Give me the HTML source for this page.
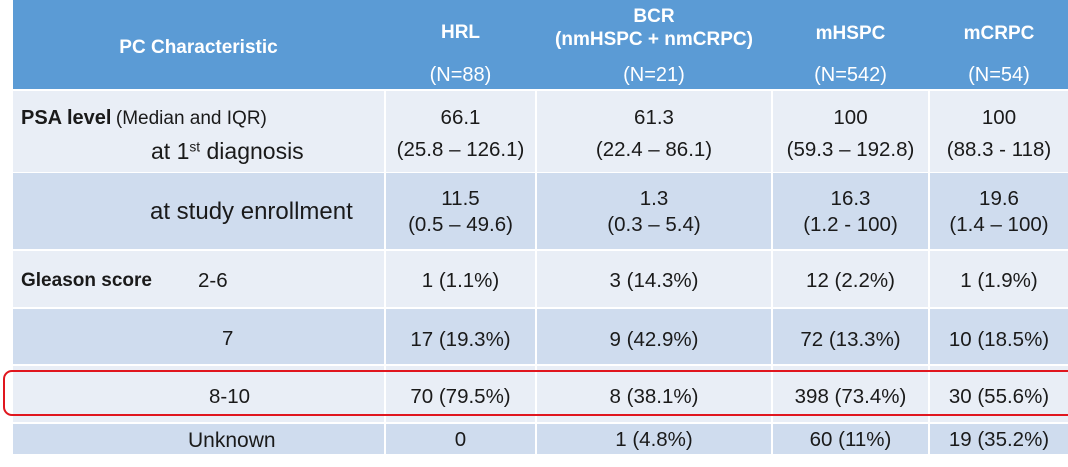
<!DOCTYPE html>
<html>
<head>
<meta charset="utf-8">
<style>
  html, body { margin:0; padding:0; }
  body {
    width:1068px; height:467px; overflow:hidden; position:relative;
    background:#ffffff;
    font-family:"Liberation Sans", Arial, sans-serif;
    color:#1a1a1a;
  }
  .bg { position:absolute; }
  .hdr { background:#5B9BD5; }
  .lt { background:#E9EEF6; }
  .dk { background:#CFDCEE; }
  .vl { position:absolute; width:2px; background:#ffffff; top:89px; height:366px; }
  .t { position:absolute; height:30px; line-height:30px; white-space:nowrap; }
  .c { text-align:center; }
  .h { color:#ffffff; font-size:19px; font-weight:bold; }
  .hn { color:#ffffff; font-size:20px; }
  .v { font-size:20.5px; }
  .c1 { left:13px; width:371px; }
  .c2 { left:386px; width:149px; }
  .c3 { left:537px; width:234px; }
  .c4 { left:773px; width:155px; }
  .c5 { left:930px; width:138px; }
  sup { font-size:0.6em; vertical-align:0.55em; line-height:0; }
  .red {
    position:absolute; left:3px; top:370px; width:1090px; height:42px;
    border:2.5px solid #E0161E; border-radius:9px;
  }
</style>
</head>
<body>
  <!-- backgrounds -->
  <div class="bg hdr" style="left:13px; top:0; width:1055px; height:89px;"></div>
  <div class="bg lt" style="left:13px; top:91px; width:1055px; height:81px;"></div>
  <div class="bg dk" style="left:13px; top:173px; width:1055px; height:76px;"></div>
  <div class="bg lt" style="left:13px; top:251px; width:1055px; height:56px;"></div>
  <div class="bg dk" style="left:13px; top:309px; width:1055px; height:55px;"></div>
  <div class="bg lt" style="left:13px; top:366px; width:1055px; height:56px;"></div>
  <div class="bg dk" style="left:13px; top:424px; width:1055px; height:30px;"></div>

  <!-- vertical separators -->
  <div class="vl" style="left:384px;"></div>
  <div class="vl" style="left:535px;"></div>
  <div class="vl" style="left:771px;"></div>
  <div class="vl" style="left:928px;"></div>

  <!-- header -->
  <div class="t c c1 h" style="top:33px;">PC Characteristic</div>
  <div class="t c c2 h" style="top:18px;">HRL</div>
  <div class="t c c2 hn" style="top:60px;">(N=88)</div>
  <div class="t c c3 h" style="top:2px;">BCR</div>
  <div class="t c c3 h" style="top:24.5px;">(nmHSPC + nmCRPC)</div>
  <div class="t c c3 hn" style="top:60px;">(N=21)</div>
  <div class="t c c4 h" style="top:19px;">mHSPC</div>
  <div class="t c c4 hn" style="top:60px;">(N=542)</div>
  <div class="t c c5 h" style="top:19px;">mCRPC</div>
  <div class="t c c5 hn" style="top:60px;">(N=54)</div>

  <!-- row 1 -->
  <div class="t" style="left:21px; top:103px;"><span style="font-weight:bold; font-size:20px;">PSA level</span> <span style="font-size:19px;">(Median and IQR)</span></div>
  <div class="t" style="left:151px; top:136px; font-size:23px;">at 1<sup>st</sup> diagnosis</div>
  <div class="t c c2 v" style="top:103px;">66.1</div>
  <div class="t c c2 v" style="top:135px;">(25.8 – 126.1)</div>
  <div class="t c c3 v" style="top:103px;">61.3</div>
  <div class="t c c3 v" style="top:135px;">(22.4 – 86.1)</div>
  <div class="t c c4 v" style="top:103px;">100</div>
  <div class="t c c4 v" style="top:135px;">(59.3 – 192.8)</div>
  <div class="t c c5 v" style="top:103px;">100</div>
  <div class="t c c5 v" style="top:135px;">(88.3 - 118)</div>

  <!-- row 2 -->
  <div class="t" style="left:150px; top:197px; font-size:24px;">at study enrollment</div>
  <div class="t c c2 v" style="top:184px;">11.5</div>
  <div class="t c c2 v" style="top:210px;">(0.5 – 49.6)</div>
  <div class="t c c3 v" style="top:184px;">1.3</div>
  <div class="t c c3 v" style="top:210px;">(0.3 – 5.4)</div>
  <div class="t c c4 v" style="top:184px;">16.3</div>
  <div class="t c c4 v" style="top:210px;">(1.2 - 100)</div>
  <div class="t c c5 v" style="top:184px;">19.6</div>
  <div class="t c c5 v" style="top:210px;">(1.4 – 100)</div>

  <!-- row 3 -->
  <div class="t" style="left:21px; top:266px; font-size:19px; font-weight:bold;">Gleason score</div>
  <div class="t v" style="left:198px; top:266px;">2-6</div>
  <div class="t c c2 v" style="top:266px;">1 (1.1%)</div>
  <div class="t c c3 v" style="top:266px;">3 (14.3%)</div>
  <div class="t c c4 v" style="top:266px;">12 (2.2%)</div>
  <div class="t c c5 v" style="top:266px;">1 (1.9%)</div>

  <!-- row 4 -->
  <div class="t v" style="left:222px; top:324px;">7</div>
  <div class="t c c2 v" style="top:325px;">17 (19.3%)</div>
  <div class="t c c3 v" style="top:325px;">9 (42.9%)</div>
  <div class="t c c4 v" style="top:325px;">72 (13.3%)</div>
  <div class="t c c5 v" style="top:325px;">10 (18.5%)</div>

  <!-- row 5 -->
  <div class="t v" style="left:209px; top:382px;">8-10</div>
  <div class="t c c2 v" style="top:382px;">70 (79.5%)</div>
  <div class="t c c3 v" style="top:382px;">8 (38.1%)</div>
  <div class="t c c4 v" style="top:382px;">398 (73.4%)</div>
  <div class="t c c5 v" style="top:382px;">30 (55.6%)</div>

  <!-- row 6 -->
  <div class="t" style="left:188px; top:426px; font-size:21px;">Unknown</div>
  <div class="t c c2 v" style="top:425px;">0</div>
  <div class="t c c3 v" style="top:425px;">1 (4.8%)</div>
  <div class="t c c4 v" style="top:425px;">60 (11%)</div>
  <div class="t c c5 v" style="top:425px;">19 (35.2%)</div>

  <!-- red highlight box -->
  <div class="red"></div>
</body>
</html>
